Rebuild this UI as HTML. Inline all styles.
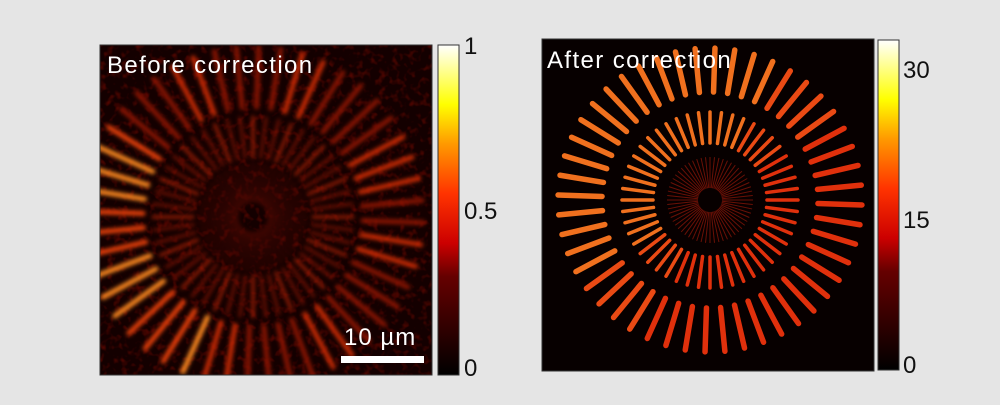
<!DOCTYPE html>
<html><head><meta charset="utf-8"><style>
html,body{margin:0;padding:0;background:#e5e5e5;width:1000px;height:405px;overflow:hidden}
svg{position:absolute;left:0;top:0}
text{font-family:"Liberation Sans",sans-serif}
</style></head><body>
<svg width="1000" height="405" viewBox="0 0 1000 405">
<defs>
<linearGradient id="hot" x1="0" y1="1" x2="0" y2="0">
<stop offset="0" stop-color="#000"/><stop offset="0.3" stop-color="#600"/>
<stop offset="0.4" stop-color="#c00"/><stop offset="0.55" stop-color="#f30"/>
<stop offset="0.7" stop-color="#f90"/><stop offset="0.82" stop-color="#ff0"/>
<stop offset="1" stop-color="#fff"/></linearGradient>
<filter id="bl" x="-0.2" y="-0.2" width="1.4" height="1.4" color-interpolation-filters="sRGB"><feGaussianBlur stdDeviation="2.2"/></filter>
<filter id="nz" x="0" y="0" width="1" height="1" color-interpolation-filters="sRGB">
<feTurbulence type="fractalNoise" baseFrequency="0.14" numOctaves="2" seed="3"/>
<feColorMatrix values="0 0 0 0 0.6  0 0 0 0 0.05  0 0 0 0 0  0 0 0 1.6 -0.8"/>
</filter>
<clipPath id="cl"><rect x="100" y="45" width="332" height="330"/></clipPath>
<clipPath id="cr"><rect x="542" y="39" width="332" height="332"/></clipPath>
</defs>
<rect x="100" y="45" width="332" height="330" fill="#140000"/>
<g clip-path="url(#cl)">
<rect x="100" y="45" width="332" height="330" filter="url(#nz)" opacity="0.8"/>
<g id="L" filter="url(#bl)"></g>
</g>
<rect x="100" y="45" width="332" height="330" fill="none" stroke="#333" stroke-width="1"/>
<text x="107" y="73" fill="#fff" font-size="24" letter-spacing="1.4">Before correction</text>
<text x="344" y="345" fill="#fff" font-size="24" letter-spacing="1">10 µm</text>
<rect x="341" y="356" width="83" height="7" fill="#fff"/>
<rect x="438" y="45" width="21" height="330" fill="url(#hot)" stroke="#333"/>
<text x="464" y="54" font-size="24" fill="#111">1</text>
<text x="464" y="219" font-size="24" fill="#111">0.5</text>
<text x="464" y="376" font-size="24" fill="#111">0</text>
<rect x="542" y="39" width="332" height="332" fill="#070000"/>
<g clip-path="url(#cr)" id="R"></g>
<rect x="542" y="39" width="332" height="332" fill="none" stroke="#333" stroke-width="1"/>
<text x="547" y="68" fill="#fff" font-size="24" letter-spacing="1.4">After correction</text>
<rect x="878" y="40" width="21" height="330" fill="url(#hot)" stroke="#333"/>
<text x="903" y="78" font-size="24" fill="#111">30</text>
<text x="903" y="228" font-size="24" fill="#111">15</text>
<text x="903" y="373" font-size="24" fill="#111">0</text>
</svg>
<script>
var NS="http://www.w3.org/2000/svg";
function spokes(g,cx,cy,n,r1,r2,w,colF,off,cap){
 for(var i=0;i<n;i++){var a=(i+off)/n*2*Math.PI;
  var l=document.createElementNS(NS,"line");
  l.setAttribute("x1",cx+r1*Math.cos(a));l.setAttribute("y1",cy+r1*Math.sin(a));
  l.setAttribute("x2",cx+r2*Math.cos(a));l.setAttribute("y2",cy+r2*Math.sin(a));
  l.setAttribute("stroke",colF(a,i));l.setAttribute("stroke-width",w);
  if(cap)l.setAttribute("stroke-linecap","round");
  g.appendChild(l);}
}
var R=document.getElementById("R");
function rc(a){var t=Math.cos(a+2.4);return t>0.3?"#f0701e":(t>-0.3?"#ea4a14":"#e0300c");}
spokes(R,710,200,48,108,152,5.5,rc,0.25,true);
spokes(R,710,200,48,57,88,3.5,rc,0,true);
spokes(R,710,200,60,12,43,1,function(){return "#6a1006";},0);
var L=document.getElementById("L");
function lc(a,i){var t=Math.cos(a-2.9);var v=Math.sin(i*7.3);return t>0.6?(v>0?"#ff8a20":"#e8400a"):(v>0.3?"#c82a04":"#8a1402");}
spokes(L,253,217,48,110,170,5,lc,0.25,true);
spokes(L,253,217,48,60,100,3,function(a,i){return i%3?"#701002":"#a01e04";},0,true);
spokes(L,253,217,56,15,55,1.5,function(){return "#4a0802";},0);
</script>
</body></html>
